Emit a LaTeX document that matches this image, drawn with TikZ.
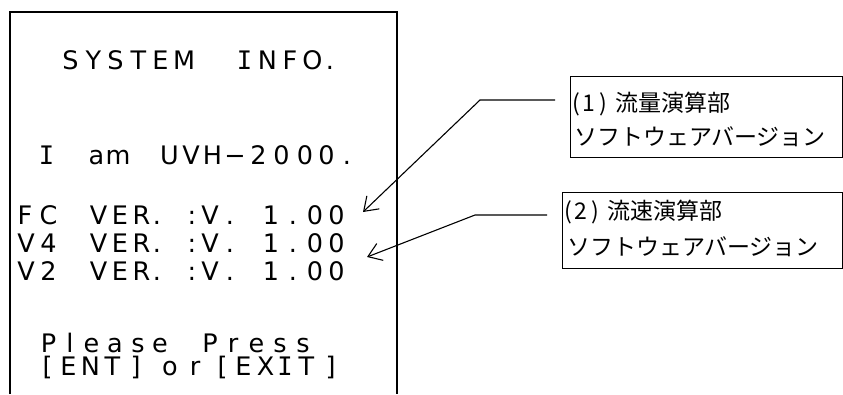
\documentclass[tikz,border=0pt]{standalone}
\usepackage{fontspec}
\setmainfont{DejaVu Sans}
\newfontfamily\jpfont{Noto Sans CJK JP}
\newfontfamily\serifI{DejaVu Sans Mono}
\usetikzlibrary{arrows.meta}
\begin{document}
\begin{tikzpicture}[x=1pt,y=-1pt,
  lcd/.style={anchor=base, inner sep=0pt, font=\fontsize{25.5}{26}\selectfont},
  jptext/.style={anchor=west, inner sep=0pt, font=\jpfont\fontsize{23}{23}\selectfont},
  lbox/.style={draw, line width=1.3pt, anchor=north west, inner sep=0pt},
  lead/.style={line width=1.1pt, -{Straight Barb[length=13pt,width=18pt,line width=1.1pt]}},
  frame/.style={line width=1.3pt}]
\useasboundingbox (0,0) rectangle (843,394);
% display frame (open at the bottom)
\coordinate (fbl) at (10,394);
\coordinate (ftl) at (10,12);
\coordinate (ftr) at (397,12);
\coordinate (fbr) at (397,394);
\draw[frame] (fbl) -- (ftl) -- (ftr) -- (fbr);
% line 1
\foreach \x/\c [count=\i] in {70.5/S,93.5/Y,115.5/S,138.5/T,160.5/E,184/M,244.5/{\serifI I},267.5/N,290/F,312.5/O,330/.}
  \node[lcd] (la\i) at (\x,69) {\c};
% line 2
\foreach \x/\c [count=\i] in {46.5/{\serifI I},96.5/a,118/m,169.5/U,191/V,212.5/H,235/−,258.5/2,281.5/0,305/0,326.5/0,347/.}
  \node[lcd] (lb\i) at (\x,164) {\c};
% version lines
\foreach \x/\c [count=\i] in {25/F,48.5/C,98.5/V,120/E,141.5/R,157/.,192/:,210/V,230/.,271/1,293/.,315/0,336.5/0}
  \node[lcd] (lc\i) at (\x,224) {\c};
\foreach \x/\c [count=\i] in {26/V,48.5/4,98.5/V,120/E,141.5/R,157/.,192/:,210/V,230/.,271/1,293/.,315/0,336.5/0}
  \node[lcd] (ld\i) at (\x,252) {\c};
\foreach \x/\c [count=\i] in {26/V,48.5/2,98.5/V,120/E,141.5/R,157/.,192/:,210/V,230/.,271/1,293/.,315/0,336.5/0}
  \node[lcd] (le\i) at (\x,280) {\c};
% please press
\foreach \x/\c [count=\i] in {48.5/P,70/l,91.5/e,115/a,138/s,160/e,210/P,233/r,256.5/e,280/s,303/s}
  \node[lcd] (lf\i) at (\x,352) {\c};
\foreach \x/\c [count=\i] in {47.5/{[},68.5/E,90.5/N,112.5/T,135.5/{]},170/o,195/r,222.5/{[},243.5/E,265.5/X,285/{\serifI I},306.5/T,330.5/{]}}
  \node[lcd] (lg\i) at (\x,375) {\c};
% label boxes
\node[lbox, minimum width=271.5pt, minimum height=81pt] (b1) at (570,76) {};
\node[jptext] (b1a) at (572,104) {(\kern3pt1\kern4pt)\kern8pt流量演算部};
\node[jptext] (b1b) at (574,136.5) {ソフトウェアバージョン};
\node[lbox, minimum width=279.5pt, minimum height=76pt] (b2) at (562,192) {};
\node[jptext] (b2a) at (564,212.5) {(\kern3pt2\kern4pt)\kern8pt流速演算部};
\node[jptext] (b2b) at (567,246.5) {ソフトウェアバージョン};
% leaders
\coordinate (s1) at (555,100);
\coordinate (k1) at (480,100);
\coordinate (t1) at (363,212);
\coordinate (s2) at (547,215);
\coordinate (k2) at (475,215);
\coordinate (t2) at (367,257);
\draw[lead] (s1) -- (k1) -- (t1);
\draw[lead] (s2) -- (k2) -- (t2);
\end{tikzpicture}
\end{document}
